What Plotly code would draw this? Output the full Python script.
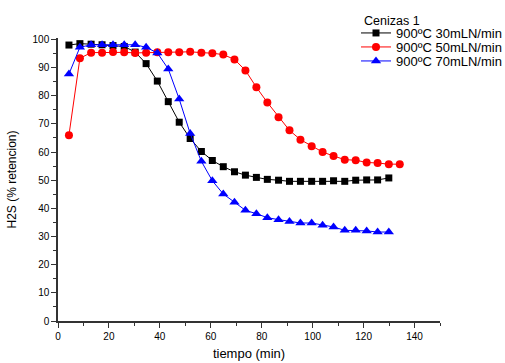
import plotly.graph_objects as go

tiempo_30 = [4.3, 8.6, 13.0, 17.3, 21.6, 26.0, 30.3, 34.6, 39.0, 43.3, 47.6, 51.9, 56.3, 60.6, 64.9,
             69.3, 73.6, 77.9, 82.2, 86.6, 90.9, 95.2, 99.6, 103.9, 108.2, 112.6, 116.9, 121.2, 125.5, 129.9]
ret_30 = [98.0, 98.5, 98.3, 98.1, 97.8, 97.5, 95.5, 91.4, 85.2, 77.9, 70.6, 64.8, 60.2, 57.0, 54.8,
          53.0, 51.8, 51.0, 50.3, 50.0, 49.6, 49.6, 49.6, 49.6, 49.8, 49.6, 50.0, 50.1, 50.1, 50.8]

tiempo_50 = [4.3, 8.6, 13.0, 17.3, 21.6, 26.0, 30.3, 34.6, 39.0, 43.3, 47.6, 51.9, 56.3, 60.6, 64.9,
             69.3, 73.6, 77.9, 82.2, 86.6, 90.9, 95.2, 99.6, 103.9, 108.2, 112.6, 116.9, 121.2, 125.5,
             129.9, 134.2]
ret_50 = [66.0, 93.3, 95.3, 95.3, 95.5, 95.4, 95.2, 95.3, 95.4, 95.4, 95.4, 95.6, 95.3, 95.1, 94.6,
          92.9, 89.0, 83.0, 77.6, 72.4, 67.7, 64.4, 62.1, 60.0, 58.6, 57.3, 57.1, 56.3, 56.1, 55.7, 55.7]

tiempo_70 = [4.3, 8.6, 13.0, 17.3, 21.6, 26.0, 30.3, 34.6, 39.0, 43.3, 47.6, 51.9, 56.3, 60.6, 64.9,
             69.3, 73.6, 77.9, 82.2, 86.6, 90.9, 95.2, 99.6, 103.9, 108.2, 112.6, 116.9, 121.2, 125.5, 129.9]
ret_70 = [87.7, 97.2, 98.1, 98.1, 98.1, 98.1, 98.1, 97.2, 95.2, 89.5, 78.8, 66.6, 56.7, 49.8, 45.1,
          42.2, 39.3, 38.1, 36.7, 36.0, 35.3, 34.8, 34.8, 34.0, 33.4, 32.2, 32.2, 32.0, 31.6, 31.6]

x_ticks = [0, 20, 40, 60, 80, 100, 120, 140]
y_ticks = [0, 10, 20, 30, 40, 50, 60, 70, 80, 90, 100]

font = "Liberation Sans, Arial, sans-serif"
W, H = 505, 363

fig = go.Figure()
fig.add_trace(go.Scatter(x=tiempo_30, y=ret_30, mode="lines+markers", name="900ºC 30mLN/min",
                         line=dict(color="black", width=1), legend="legend",
                         marker=dict(symbol="square", size=7, color="black")))
fig.add_trace(go.Scatter(x=tiempo_50, y=ret_50, mode="lines+markers", name="900ºC 50mLN/min",
                         line=dict(color="red", width=1), legend="legend2",
                         marker=dict(symbol="circle", size=8, color="red")))
fig.add_trace(go.Scatter(x=tiempo_70, y=ret_70, mode="lines+markers", name="900ºC 70mLN/min",
                         line=dict(color="blue", width=1), legend="legend3",
                         marker=dict(symbol="triangle-up", size=9, color="blue")))

axis_common = dict(showline=True, linecolor="#333", linewidth=1.5, ticks="outside", ticklen=5,
                   tickwidth=1.2, tickcolor="#333", showgrid=False, zeroline=False, automargin=False,
                   tickfont=dict(size=10, color="black", family=font),
                   minor=dict(ticks="outside", ticklen=3, tickwidth=1, tickcolor="#333", showgrid=False))

fig.update_xaxes(range=[0, 150], tickvals=x_ticks, ticktext=[str(v) for v in x_ticks],
                 title=dict(text="tiempo (min)", font=dict(size=13, color="black", family=font), standoff=8),
                 **axis_common)
fig.update_yaxes(range=[0, 100.5], tickvals=y_ticks, ticktext=[str(v) for v in y_ticks],
                 title=dict(text="H2S (% retencion)", font=dict(size=12, color="black", family=font), standoff=13),
                 **axis_common)
fig.update_xaxes(minor=dict(dtick=10, tick0=0))
fig.update_yaxes(minor=dict(dtick=5, tick0=0))


def leg(py):
    return dict(font=dict(size=13, family=font, color="black"), xref="container", yref="container",
                x=356 / W, y=1 - py / H, xanchor="left", yanchor="middle",
                bgcolor="rgba(0,0,0,0)", borderwidth=0, visible=True)


fig.update_layout(
    width=W, height=H, showlegend=True,
    margin=dict(l=58, r=65, t=38, b=42, autoexpand=False),
    plot_bgcolor="white", paper_bgcolor="white",
    font=dict(family=font, color="black"),
    legend=leg(33), legend2=leg(47), legend3=leg(61),
    annotations=[dict(text="Cenizas 1", xref="paper", yref="paper", x=(362 - 58) / 382,
                      y=((363 - 42) - 21) / 283, xanchor="left", yanchor="middle",
                      showarrow=False, font=dict(size=12.5, family=font, color="black"))],
)

fig.write_html("out.html", config={"displayModeBar": False},
               post_script="document.body.style.margin='0';document.body.style.padding='0';")
